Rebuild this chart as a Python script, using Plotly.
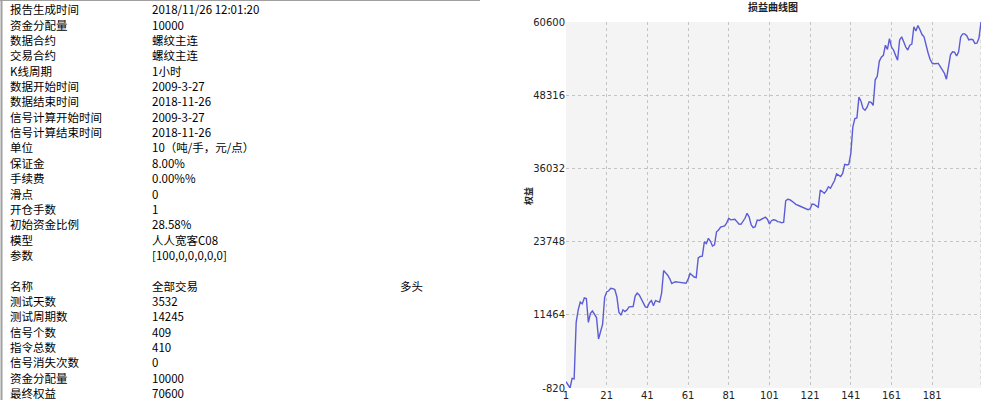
import plotly.graph_objects as go

# equity curve (profit / loss), one value per trade
EQUITY = [
    240, -300, -820, 800, 700, 10200, 12300, 13600, 13300, 14300,
    14200, 10200, 11700, 12100, 11600, 11000, 7400, 8800, 9900, 14400,
    15300, 15500, 15900, 15850, 15700, 14500, 11900, 11400, 12300, 12000,
    12300, 12800, 12850, 12850, 14600, 15100, 14800, 14200, 13400, 12800,
    12700, 13500, 13850, 13000, 13850, 13700, 13600, 15100, 18900, 18500,
    18100, 17500, 16700, 16900, 17000, 16950, 16900, 16850, 16800, 16750,
    17400, 18400, 18100, 17800, 17700, 21000, 21250, 21300, 23700, 23400,
    24300, 23800, 23000, 23200, 25400, 25700, 26200, 26350, 26400, 26900,
    27650, 27400, 27400, 27500, 27100, 26700, 26650, 27100, 27660, 28500,
    27900, 26600, 26100, 26250, 27350, 27300, 27500, 27650, 27850, 27500,
    26700, 27250, 27400, 27350, 27100, 27050, 26900, 27000, 30600, 30850,
    30800, 30550, 30200, 30000, 29850, 29700, 29600, 29400, 29200, 29100,
    29250, 30050, 30000, 29750, 29500, 32400, 32100, 31850, 32300, 32950,
    32700, 33400, 34000, 35100, 34900, 34650, 35200, 36700, 36600, 36700,
    38500, 43000, 44400, 44500, 48000, 47300, 46100, 45800, 46300, 47200,
    47100, 46600, 50900, 51500, 54000, 54700, 55000, 56700, 56000, 57800,
    56400, 55900, 55000, 54200, 57600, 58100, 57300, 56400, 55900, 56700,
    56900, 59800, 59100, 60000, 59300, 58500, 58100, 56500, 55400, 54300,
    53700, 53600, 53600, 53650, 53100, 52600, 52000, 51000, 53000, 55100,
    55600, 55550, 54900, 55600, 58100, 58600, 58600, 58300, 57600, 57700,
    57650, 57000, 57050, 57900, 60600,
]
Y_TICKS = [-820, 11464, 23748, 36032, 48316, 60600]
X_TICKS = [1, 21, 41, 61, 81, 101, 121, 141, 161, 181]

# report table on the left
REPORT_LABELS = [
    '报告生成时间', '资金分配量', '数据合约', '交易合约', 'K线周期',
    '数据开始时间', '数据结束时间', '信号计算开始时间', '信号计算结束时间',
    '单位', '保证金', '手续费', '滑点', '开仓手数', '初始资金比例', '模型', '参数',
    '', '名称', '测试天数', '测试周期数', '信号个数', '指令总数', '信号消失次数',
    '资金分配量', '最终权益',
]
REPORT_VALUES = [
    '2018/11/26 12:01:20', '10000', '螺纹主连', '螺纹主连', '1小时',
    '2009-3-27', '2018-11-26', '2009-3-27', '2018-11-26',
    '10（吨/手，元/点）', '8.00%', '0.00%%', '0', '1', '28.58%', '人人宽客C08',
    '[100,0,0,0,0,0]',
    '', '全部交易', '3532', '14245', '409', '410', '0', '10000', '70600',
]

W, H = 1000, 400
LINE = '#5c5cd6'
GRID = '#c4c4c4'
FONT = 'Noto Sans CJK SC, sans-serif'
TABLE_SIZE = 11.5

x = list(range(1, len(EQUITY) + 1))

fig = go.Figure()
fig.add_trace(go.Scatter(
    x=x, y=EQUITY, mode='lines',
    line=dict(color=LINE, width=1.4),
    hoverinfo='skip', showlegend=False,
))

ann = []
for k, (lab, val) in enumerate(zip(REPORT_LABELS, REPORT_VALUES)):
    yp = 1 - (9.3 + k * 15.35) / H
    if lab:
        ann.append(dict(text=lab, x=8 / W, y=yp, xref='paper', yref='paper',
                        xanchor='left', yanchor='middle', showarrow=False,
                        font=dict(size=TABLE_SIZE, color='#000', family=FONT)))
    if val:
        ann.append(dict(text=val, x=150 / W, y=yp, xref='paper', yref='paper',
                        xanchor='left', yanchor='middle', showarrow=False,
                        font=dict(size=TABLE_SIZE, color='#000', family=FONT)))
ann.append(dict(text='多头', x=398 / W, y=1 - (9.3 + 18 * 15.35) / H,
                xref='paper', yref='paper', xanchor='left', yanchor='middle',
                showarrow=False, font=dict(size=TABLE_SIZE, color='#000', family=FONT)))

# chart title and y-axis title
ann.append(dict(text='<b>损益曲线图</b>', x=773 / W, y=1 - 7 / H, xref='paper', yref='paper',
                xanchor='center', yanchor='middle', showarrow=False,
                font=dict(size=10, color='#222', family=FONT)))
ann.append(dict(text='<b>权益</b>', x=528 / W, y=1 - 196 / H, xref='paper', yref='paper',
                xanchor='center', yanchor='middle', showarrow=False, textangle=-90,
                font=dict(size=9, color='#222', family=FONT)))

shapes = [
    # left panel borders
    dict(type='line', xref='paper', yref='paper', x0=1.5 / W, x1=1.5 / W, y0=0, y1=1,
         line=dict(color='#a0a0a0', width=2)),
    dict(type='line', xref='paper', yref='paper', x0=0, x1=480 / W, y0=1 - 0.5 / H, y1=1 - 0.5 / H,
         line=dict(color='#a0a0a0', width=1)),
    # dotted right edge of the plot
    dict(type='line', xref='x', yref='paper', x0=len(EQUITY), x1=len(EQUITY),
         y0=1 - 22 / H, y1=1 - 388 / H, line=dict(color=GRID, width=1, dash='dot'), layer='below'),
]

fig.update_layout(
    width=W, height=H,
    margin=dict(l=0, r=0, t=0, b=0),
    paper_bgcolor='white',
    plot_bgcolor='#f4f4f4',
    font=dict(family=FONT, color='#333', size=10),
    annotations=ann,
    shapes=shapes,
    xaxis=dict(
        domain=[566 / W, 981 / W], range=[1, len(EQUITY)],
        tickvals=X_TICKS, ticktext=[str(v) for v in X_TICKS],
        showgrid=True, gridcolor=GRID, griddash='dot', gridwidth=1,
        zeroline=False, showline=False, ticks='', ticklen=0, automargin=False,
        tickfont=dict(size=10, color='#222', family='DejaVu Sans'),
    ),
    yaxis=dict(
        domain=[1 - 388 / H, 1 - 22 / H], range=[min(EQUITY), max(EQUITY)],
        tickvals=Y_TICKS, ticktext=[str(v) for v in Y_TICKS],
        showgrid=True, gridcolor=GRID, griddash='dot', gridwidth=1,
        zeroline=False, showline=False, ticks='', ticklen=0, automargin=False,
        tickfont=dict(size=10, color='#222', family='DejaVu Sans'),
    ),
)

# pin the graph to the window's top-left corner (no body margin offset)
pin = ("document.body.style.margin='0';document.body.style.overflow='hidden';"
       "var d=document.getElementById('{plot_id}');"
       "d.style.position='fixed';d.style.left='0px';d.style.top='0px';")
fig.write_html('out.html', config={'displayModeBar': False}, post_script=pin)
